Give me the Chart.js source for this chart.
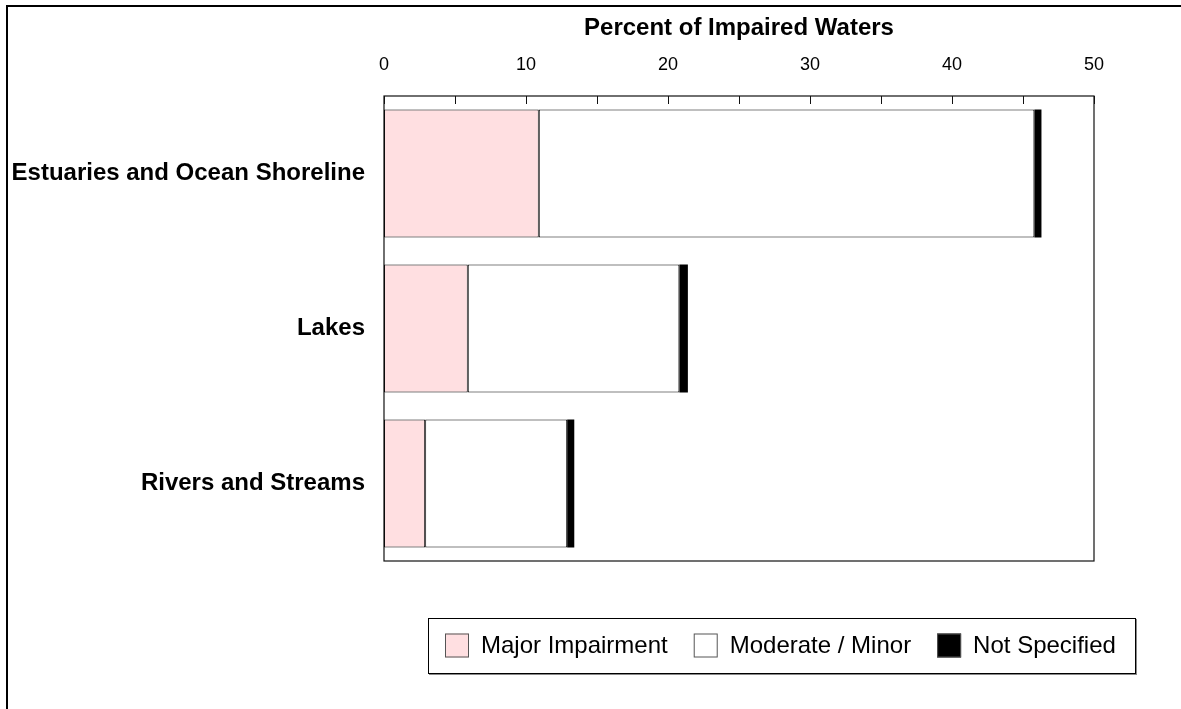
<!DOCTYPE html>
<html>
<head>
<meta charset="utf-8">
<script src="https://cdn.jsdelivr.net/npm/chart.js@4"></script>
<style>
  html, body { margin: 0; padding: 0; background: #fff; }
</style>
</head>
<body>
<canvas id="chart" width="1181" height="709"></canvas>
<script>
const categories = ["Estuaries and Ocean Shoreline", "Lakes", "Rivers and Streams"];
const seriesNames = ["Major Impairment", "Moderate / Minor", "Not Specified"];
const majorImpairment = [10.9, 5.9, 2.9];
const moderateMinor = [34.9, 14.9, 10.0];
const notSpecified = [0.5, 0.6, 0.5];
const xMin = 0, xMax = 50;
const axisTitle = "Percent of Impaired Waters";

const FONT = "'Liberation Sans', Arial, sans-serif";
const colors = ["#ffdfe1", "#ffffff", "#000000"];

/*
    Draws the plot frame, the inner tick marks, the page frame and the boxed legend
*/
const framePlugin = {
    id: "frame",
    afterDatasetsDraw(chart) {
        const ctx = chart.ctx;
        const a = chart.chartArea;
        const xs = chart.scales.x;
        ctx.save();

        // page frame (left + top only)
        ctx.fillStyle = "#000";
        ctx.fillRect(6, 5, 2, 709);
        ctx.fillRect(6, 5, 1181, 2);

        // plot box
        ctx.strokeStyle = "#111";
        ctx.lineWidth = 1.2;
        ctx.strokeRect(a.left, a.top, a.right - a.left, a.bottom - a.top);

        // tick marks pointing into the plot
        ctx.lineWidth = 1;
        xs.ticks.forEach(t => {
            const x = Math.round(xs.getPixelForValue(t.value)) + 0.5;
            ctx.beginPath();
            ctx.moveTo(x, a.top);
            ctx.lineTo(x, a.top + 8);
            ctx.stroke();
        });

        // legend
        const lx = 428, ly = 618, lw = 707, lh = 55;
        ctx.strokeStyle = "#888";
        ctx.lineWidth = 2;
        ctx.beginPath();
        ctx.moveTo(lx + lw + 1, ly + 1);
        ctx.lineTo(lx + lw + 1, ly + lh + 1);
        ctx.lineTo(lx + 1, ly + lh + 1);
        ctx.stroke();
        ctx.strokeStyle = "#000";
        ctx.lineWidth = 1;
        ctx.strokeRect(lx + 0.5, ly + 0.5, lw, lh);

        ctx.font = "24px " + FONT;
        ctx.textBaseline = "middle";
        ctx.textAlign = "left";
        let x = lx + 17;
        const cy = ly + lh / 2;
        chart.data.datasets.forEach(ds => {
            ctx.fillStyle = ds.backgroundColor;
            ctx.fillRect(x, cy - 12, 24, 24);
            ctx.strokeStyle = "#555";
            ctx.strokeRect(x + 0.5, cy - 11.5, 23, 23);
            ctx.fillStyle = "#000";
            ctx.fillText(ds.label, x + 36, cy + 1);
            x += 36 + ctx.measureText(ds.label).width + 26;
        });
        ctx.restore();
    }
};

const ctx = document.getElementById("chart");
new Chart(ctx, {
    type: "bar",
    data: {
        labels: categories,
        datasets: [
            { label: seriesNames[0], data: majorImpairment, backgroundColor: colors[0], borderColor: "#000", borderWidth: 1, borderSkipped: false },
            { label: seriesNames[1], data: moderateMinor, backgroundColor: colors[1], borderColor: "#000", borderWidth: 1, borderSkipped: false },
            { label: seriesNames[2], data: notSpecified, backgroundColor: colors[2], borderColor: "#000", borderWidth: 0 }
        ]
    },
    options: {
        indexAxis: "y",
        responsive: false,
        animation: false,
        categoryPercentage: 1,
        barPercentage: 0.826,
        layout: { padding: { left: 0, top: 0, right: 87, bottom: 148 } },
        plugins: {
            legend: { display: false },
            tooltip: { enabled: false }
        },
        scales: {
            x: {
                position: "top",
                stacked: true,
                min: xMin,
                max: xMax,
                grid: { display: false },
                border: { display: false },
                ticks: {
                    stepSize: 5,
                    autoSkip: false,
                    maxRotation: 0,
                    padding: 12,
                    color: "#000",
                    font: { family: FONT, size: 18 },
                    callback: v => (v % 10 === 0 ? v : "")
                },
                title: {
                    display: true,
                    text: axisTitle,
                    color: "#000",
                    font: { family: FONT, size: 24, weight: "bold" },
                    padding: { top: 14, bottom: 0 }
                },
                afterFit: s => { s.height = 96; }
            },
            y: {
                stacked: true,
                grid: { display: false },
                border: { display: false },
                ticks: {
                    padding: 11,
                    color: "#000",
                    font: { family: FONT, size: 24, weight: "bold" }
                },
                afterFit: s => { s.width = 384; }
            }
        }
    },
    plugins: [framePlugin]
});
</script>
</body>
</html>
